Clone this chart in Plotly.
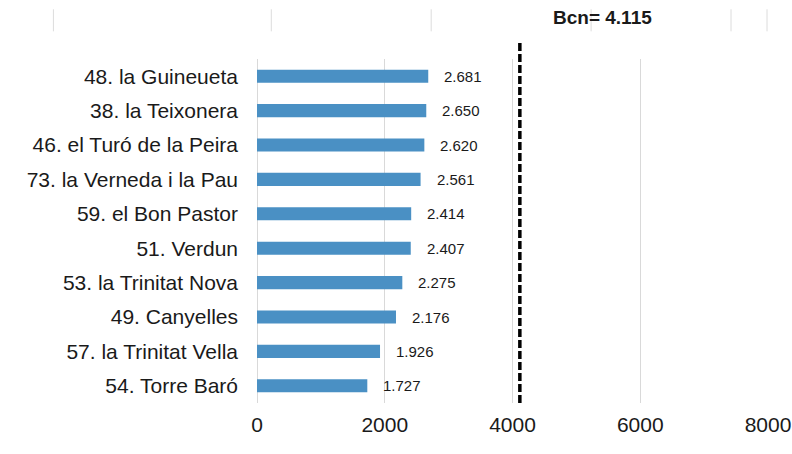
import plotly.graph_objects as go

barris = ["48. la Guineueta", "38. la Teixonera", "46. el Turó de la Peira",
          "73. la Verneda i la Pau", "59. el Bon Pastor", "51. Verdun",
          "53. la Trinitat Nova", "49. Canyelles", "57. la Trinitat Vella",
          "54. Torre Baró"]
valors = [2681, 2650, 2620, 2561, 2414, 2407, 2275, 2176, 1926, 1727]
bcn = 4115
x_ticks = [0, 2000, 4000, 6000, 8000]


def fmt(v):
    return f"{v:,}".replace(",", ".")


FONT = "Liberation Sans, Arial, sans-serif"
TXT = "#1a1a1a"
GRID = "#d9d9d9"

fig = go.Figure()
fig.add_trace(go.Bar(
    y=barris, x=valors, orientation="h",
    marker=dict(color="#4a90c4", line=dict(width=0)),
    hoverinfo="x+y",
))

for b, v in zip(barris, valors):
    fig.add_annotation(x=v, y=b, xref="x", yref="y", text=fmt(v),
                       showarrow=False, xanchor="left", yanchor="middle",
                       xshift=14, font=dict(family=FONT, size=15, color=TXT))

# Barcelona reference line
fig.add_shape(type="line", xref="x", yref="paper", x0=bcn, x1=bcn, y0=0, y1=1.055,
              line=dict(color="black", width=3.5, dash="8px,3px"))
fig.add_annotation(x=bcn, y=1.121, xref="x", yref="paper",
                   text="<b>Bcn= " + fmt(bcn) + "</b>", showarrow=False,
                   xanchor="left", yanchor="middle", xshift=31,
                   font=dict(family=FONT, size=19, color=TXT))

# faint stray grid fragments in the top strip
for px in [53, 271, 431, 591, 731, 767]:
    xp = (px - 256.7) / 511.3
    fig.add_shape(type="line", xref="paper", yref="paper", x0=xp, x1=xp,
                  y0=1.0804, y1=1.1445, line=dict(color="#dcdcdc", width=1), layer="below")

fig.update_layout(
    width=792, height=454,
    margin=dict(l=256.7, r=24, t=59.3, b=51, autoexpand=False),
    paper_bgcolor="white", plot_bgcolor="white",
    bargap=0.62, showlegend=False,
    font=dict(family=FONT, color=TXT),
)
fig.update_xaxes(range=[0, 8000], tickvals=x_ticks, ticktext=[str(t) for t in x_ticks],
                 showgrid=True, gridcolor=GRID, gridwidth=1, zeroline=True,
                 zerolinecolor=GRID, zerolinewidth=1, showline=False,
                 tickfont=dict(family=FONT, size=21, color=TXT), ticks="",
                 ticklabelstandoff=7, automargin=False)
fig.update_yaxes(autorange="reversed", showgrid=False, zeroline=False, showline=False,
                 tickfont=dict(family=FONT, size=21, color=TXT), ticks="",
                 ticklabelstandoff=18, automargin=False)

# remove the page's default 8px body margin so the figure fills the window
fig.write_html("out.html", config={"displayModeBar": False},
               post_script="document.body.style.margin='0';document.body.style.overflow='hidden';")
